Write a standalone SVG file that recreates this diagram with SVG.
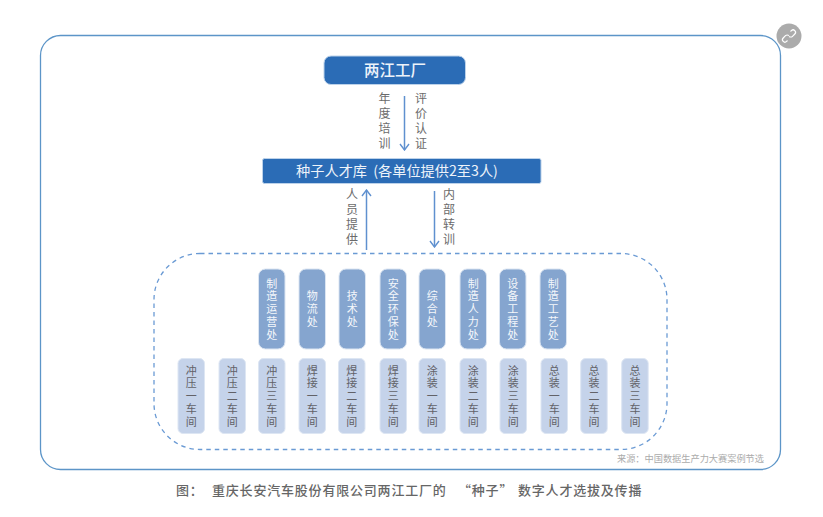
<svg xmlns="http://www.w3.org/2000/svg" width="823" height="517" viewBox="0 0 823 517">
<style>
text{font-family:"Noto Sans CJK SC","Noto Sans",sans-serif;text-anchor:middle}
.lbl{font-size:12px;fill:#6b6b6b;writing-mode:vertical-rl;letter-spacing:3px}
.dept rect{fill:#85a5cf;stroke:#dbe5f2;stroke-width:1}
.dept text{font-size:11px;letter-spacing:1.8px;fill:#f4f7fb;writing-mode:vertical-rl}
.shop rect{fill:#c5d3ea;stroke:#dde6f3;stroke-width:1}
.shop text{font-size:11px;letter-spacing:1.8px;fill:#626268;writing-mode:vertical-rl}
.main rect{fill:#2b6cb6;stroke:#bcd2ea;stroke-width:1}
.main text{fill:#edf3fa}
.conn{fill:none;stroke:#5f90cf;stroke-width:1.5}
</style>
<defs>
<marker id="a" viewBox="0 0 12 12" refX="11" refY="6" markerWidth="12" markerHeight="12" markerUnits="userSpaceOnUse" orient="auto"><path d="M5 1.500 11 6 5 10.500" fill="none" stroke="#5f90cf" stroke-width="1.400"/></marker>
</defs>
<rect width="823" height="517" fill="#fff"/>
<rect id="frame" x="40.500" y="35.500" width="740" height="434" rx="20" fill="none" stroke="#5c95c8" stroke-width="1.300"/>
<rect id="group-box" x="154" y="253.500" width="513" height="196" rx="46" fill="none" stroke="#6a9ad4" stroke-width="1.300" stroke-dasharray="4.500 4"/>

<g id="connectors">
<path class="conn" marker-end="url(#a)" d="M404.500 96V150"/>
<path class="conn" marker-end="url(#a)" d="M366.500 250V190"/>
<path class="conn" marker-end="url(#a)" d="M434.500 191V247"/>
</g>

<g id="node-factory" class="main"><rect x="324" y="56" width="141.500" height="28.500" rx="7"/><text x="395" y="75.500" font-size="15.500" font-weight="500">两江工厂</text></g>
<g id="node-pool" class="main"><rect x="262.500" y="158.500" width="278.500" height="25" rx="2"/><text x="397" y="176" font-size="14.200">种子人才库 <tspan dx="3">(各单位提供2至3人)</tspan></text></g>

<text class="lbl" x="384.500" y="122">年度培训</text>
<text class="lbl" x="421" y="122">评价认证</text>
<text class="lbl" x="352" y="218">人员提供</text>
<text class="lbl" x="449" y="218">内部转训</text>

<g id="dept-1" class="dept"><rect x="258.500" y="269" width="26.500" height="80" rx="7"/><text x="271.800" y="310">制造运营处</text></g>
<g id="dept-2" class="dept"><rect x="299" y="269" width="26.500" height="80" rx="7"/><text x="312.300" y="310">物流处</text></g>
<g id="dept-3" class="dept"><rect x="339" y="269" width="26.500" height="80" rx="7"/><text x="352.300" y="310">技术处</text></g>
<g id="dept-4" class="dept"><rect x="380" y="269" width="26.500" height="80" rx="7"/><text x="393.300" y="310">安全环保处</text></g>
<g id="dept-5" class="dept"><rect x="419" y="269" width="26.500" height="80" rx="7"/><text x="432.300" y="310">综合处</text></g>
<g id="dept-6" class="dept"><rect x="460" y="269" width="26.500" height="80" rx="7"/><text x="473.300" y="310">制造人力处</text></g>
<g id="dept-7" class="dept"><rect x="499.500" y="269" width="26.500" height="80" rx="7"/><text x="512.800" y="310">设备工程处</text></g>
<g id="dept-8" class="dept"><rect x="540" y="269" width="26.500" height="80" rx="7"/><text x="553.300" y="310">制造工艺处</text></g>

<g id="shop-1" class="shop"><rect x="178" y="358.500" width="26.500" height="75" rx="5"/><text x="191.300" y="397">冲压一车间</text></g>
<g id="shop-2" class="shop"><rect x="219" y="358.500" width="26.500" height="75" rx="5"/><text x="232.300" y="397">冲压二车间</text></g>
<g id="shop-3" class="shop"><rect x="258.500" y="358.500" width="26.500" height="75" rx="5"/><text x="271.800" y="397">冲压三车间</text></g>
<g id="shop-4" class="shop"><rect x="299" y="358.500" width="26.500" height="75" rx="5"/><text x="312.300" y="397">焊接一车间</text></g>
<g id="shop-5" class="shop"><rect x="338.500" y="358.500" width="26.500" height="75" rx="5"/><text x="351.800" y="397">焊接二车间</text></g>
<g id="shop-6" class="shop"><rect x="380" y="358.500" width="26.500" height="75" rx="5"/><text x="393.300" y="397">焊接三车间</text></g>
<g id="shop-7" class="shop"><rect x="419" y="358.500" width="26.500" height="75" rx="5"/><text x="432.300" y="397">涂装一车间</text></g>
<g id="shop-8" class="shop"><rect x="460" y="358.500" width="26.500" height="75" rx="5"/><text x="473.300" y="397">涂装二车间</text></g>
<g id="shop-9" class="shop"><rect x="500" y="358.500" width="26.500" height="75" rx="5"/><text x="513.300" y="397">涂装三车间</text></g>
<g id="shop-10" class="shop"><rect x="541" y="358.500" width="26.500" height="75" rx="5"/><text x="554.300" y="397">总装一车间</text></g>
<g id="shop-11" class="shop"><rect x="580.700" y="358.500" width="26.500" height="75" rx="5"/><text x="594" y="397">总装二车间</text></g>
<g id="shop-12" class="shop"><rect x="621.700" y="358.500" width="26.500" height="75" rx="5"/><text x="635" y="397">总装三车间</text></g>

<text id="source" x="764" y="461.500" font-size="9.200" fill="#ababab" style="text-anchor:end">来源：中国数据生产力大赛案例节选</text>
<text id="caption" y="495" font-size="13" font-weight="500" fill="#666" letter-spacing=".8" style="text-anchor:start"><tspan x="176">图：</tspan><tspan x="212">重庆长安汽车股份有限公司两江工厂的</tspan><tspan x="458">“种子”</tspan><tspan x="518">数字人才选拔及传播</tspan></text>

<g id="link-badge">
<circle cx="789" cy="36" r="12.500" fill="#ababab"/>
<path d="M790.500 31.500l.9-.9a2.400 2.400 0 0 1 3.400 3.400l-2.300 2.300a2.400 2.400 0 0 1-3.400 0M787.500 40.500l-.9.900a2.400 2.400 0 0 1-3.400-3.400l2.300-2.300a2.400 2.400 0 0 1 3.400 0" fill="none" stroke="#fff" stroke-width="1.200"/>
</g>
</svg>
